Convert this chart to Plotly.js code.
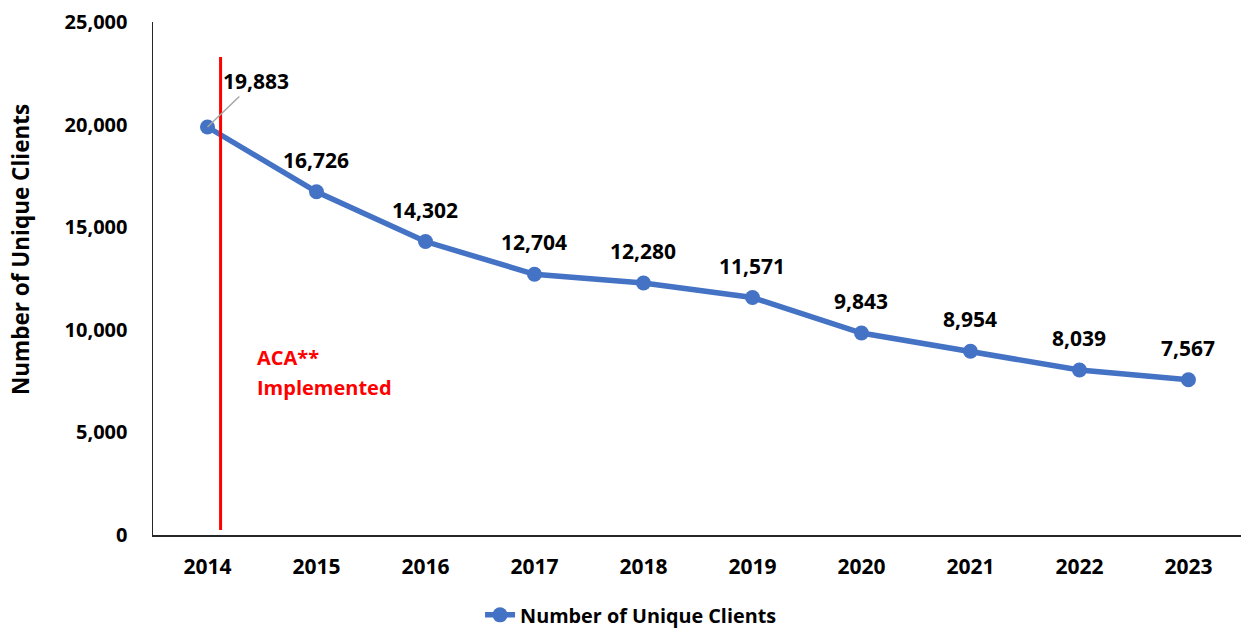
<!DOCTYPE html>
<html>
<head>
<meta charset="utf-8">
<script src="https://cdn.plot.ly/plotly-3.0.1.min.js"></script>
<style>html,body{margin:0;padding:0;background:#fff;}#chart{width:1241px;height:628px;}</style>
</head>
<body>
<div id="chart"></div>
<script>
const years = ['2014','2015','2016','2017','2018','2019','2020','2021','2022','2023'];
const clients = [19883, 16726, 14302, 12704, 12280, 11571, 9843, 8954, 8039, 7567];
const labels = clients.map(v => v.toLocaleString('en-US'));
const seriesName = 'Number of Unique Clients';
const yTicks = [0, 5000, 10000, 15000, 20000, 25000];
const yTickText = ['0', '5,000', '10,000', '15,000', '20,000', '25,000'];
const acaPosition = 0.12;   // between 2014 and 2015, in category index units
const acaLines = ['ACA**', 'Implemented'];
const acaLineY = [8626, 7164];

const FONT = '"Open Sans", "DejaVu Sans", sans-serif';
const BLUE = '#4472C4';

const trace = {
  x: years,
  y: clients,
  type: 'scatter',
  mode: 'lines+markers',
  name: seriesName,
  line: {color: BLUE, width: 5.5},
  marker: {color: BLUE, size: 15},
  hoverinfo: 'x+y'
};

const annotations = clients.map((v, i) => {
  if (i === 0) {
    return {
      x: i, y: v, xref: 'x', yref: 'y',
      text: '<b>' + labels[i] + '</b>',
      showarrow: true, arrowhead: 0, arrowwidth: 1.5, arrowcolor: '#A6A6A6',
      ax: 48, ay: -46, standoff: 0,
      font: {family: FONT, size: 21, color: '#000'}
    };
  }
  return {
    x: i, y: v, xref: 'x', yref: 'y',
    text: '<b>' + labels[i] + '</b>',
    showarrow: false, yshift: 32,
    font: {family: FONT, size: 21, color: '#000'}
  };
});

acaLines.forEach((t, k) => {
  annotations.push({
    x: 0.44, y: acaLineY[k], xref: 'x', yref: 'y',
    text: '<b>' + t + '</b>',
    showarrow: false, xanchor: 'left', yanchor: 'middle', align: 'left',
    font: {family: FONT, size: 20, color: '#FF0000'}
  });
});

annotations.push({
  x: -0.1213, y: 0.5556, xref: 'paper', yref: 'paper',
  text: '<b>' + seriesName + '</b>',
  showarrow: false, textangle: -90, xanchor: 'center', yanchor: 'middle',
  font: {family: FONT, size: 22.5, color: '#000'}
});

const layout = {
  width: 1241, height: 628,
  margin: {l: 153, r: 0, t: 22, b: 93},
  paper_bgcolor: '#fff', plot_bgcolor: '#fff',
  font: {family: FONT, color: '#000'},
  showlegend: true,
  legend: {
    orientation: 'h', xref: 'container', yref: 'container',
    x: 0.5085, xanchor: 'center', y: 0.0207, yanchor: 'middle',
    font: {family: FONT, size: 19.8, color: '#000', weight: 'bold'}
  },
  xaxis: {
    type: 'category',
    range: [-0.5, 9.482],
    automargin: false,
    showline: true, linecolor: '#262626', linewidth: 1.5,
    showgrid: false, zeroline: false,
    ticks: '', ticklabelstandoff: 12,
    tickfont: {family: FONT, size: 21, color: '#000', weight: 'bold'},
    fixedrange: true
  },
  yaxis: {
    range: [0, 25000],
    automargin: false,
    tickvals: yTicks, ticktext: yTickText,
    showline: true, linecolor: '#262626', linewidth: 1.5,
    showgrid: false, zeroline: false,
    ticks: '', ticklabelstandoff: 20,
    tickfont: {family: FONT, size: 20, color: '#000', weight: 'bold'},
    fixedrange: true
  },
  shapes: [{
    type: 'line', xref: 'x', yref: 'paper',
    x0: acaPosition, x1: acaPosition, y0: 0.0097, y1: 0.932,
    line: {color: '#FF0000', width: 3}
  }],
  annotations: annotations
};

Plotly.newPlot('chart', [trace], layout, {displayModeBar: false, staticPlot: true});
</script>
</body>
</html>
